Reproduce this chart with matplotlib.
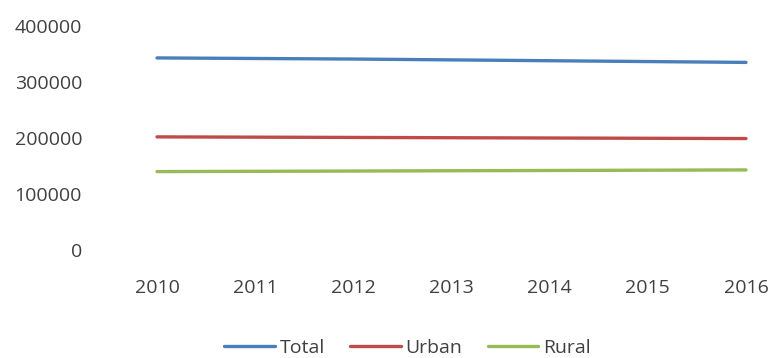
import matplotlib
matplotlib.use('Agg')
import matplotlib.pyplot as plt

years = [2010, 2011, 2012, 2013, 2014, 2015, 2016]
total = [343000, 342000, 341000, 339500, 338000, 336500, 335000]
urban = [202000, 201500, 201000, 200500, 200000, 199500, 199000]
rural = [140000, 140500, 141000, 141500, 142000, 142500, 143000]

series = [
    ('Total', total, '#4A7EBB'),
    ('Urban', urban, '#BE4B48'),
    ('Rural', rural, '#98B954'),
]

plt.rcParams['font.family'] = ['Open Sans', 'DejaVu Sans']
text_color = '#404040'

fig = plt.figure(figsize=(7.73, 3.58), dpi=100)
ax = fig.add_axes([157 / 773, 108 / 358, 589 / 773, 224 / 358])

for name, vals, color in series:
    ax.plot(years, vals, color=color, linewidth=2.4, label=name,
            solid_capstyle='round', clip_on=False)

ax.set_xlim(2010, 2016)
ax.set_ylim(0, 400000)
ax.set_xticks(years)
ax.set_yticks([0, 100000, 200000, 300000, 400000])
ax.set_yticklabels(['0', '100000', '200000', '300000', '400000'])

for side in ['top', 'right', 'bottom', 'left']:
    ax.spines[side].set_visible(False)
ax.tick_params(axis='both', length=0, labelsize=14, labelcolor=text_color)
ax.tick_params(axis='y', pad=54)
ax.tick_params(axis='x', pad=21)

fig.legend(loc='lower center', bbox_to_anchor=(0.527, -0.045), ncol=3,
           frameon=False, fontsize=14, handlelength=2.6, handletextpad=0.25,
           columnspacing=1.3, labelcolor=text_color)

fig.savefig('out.png', dpi=100)
